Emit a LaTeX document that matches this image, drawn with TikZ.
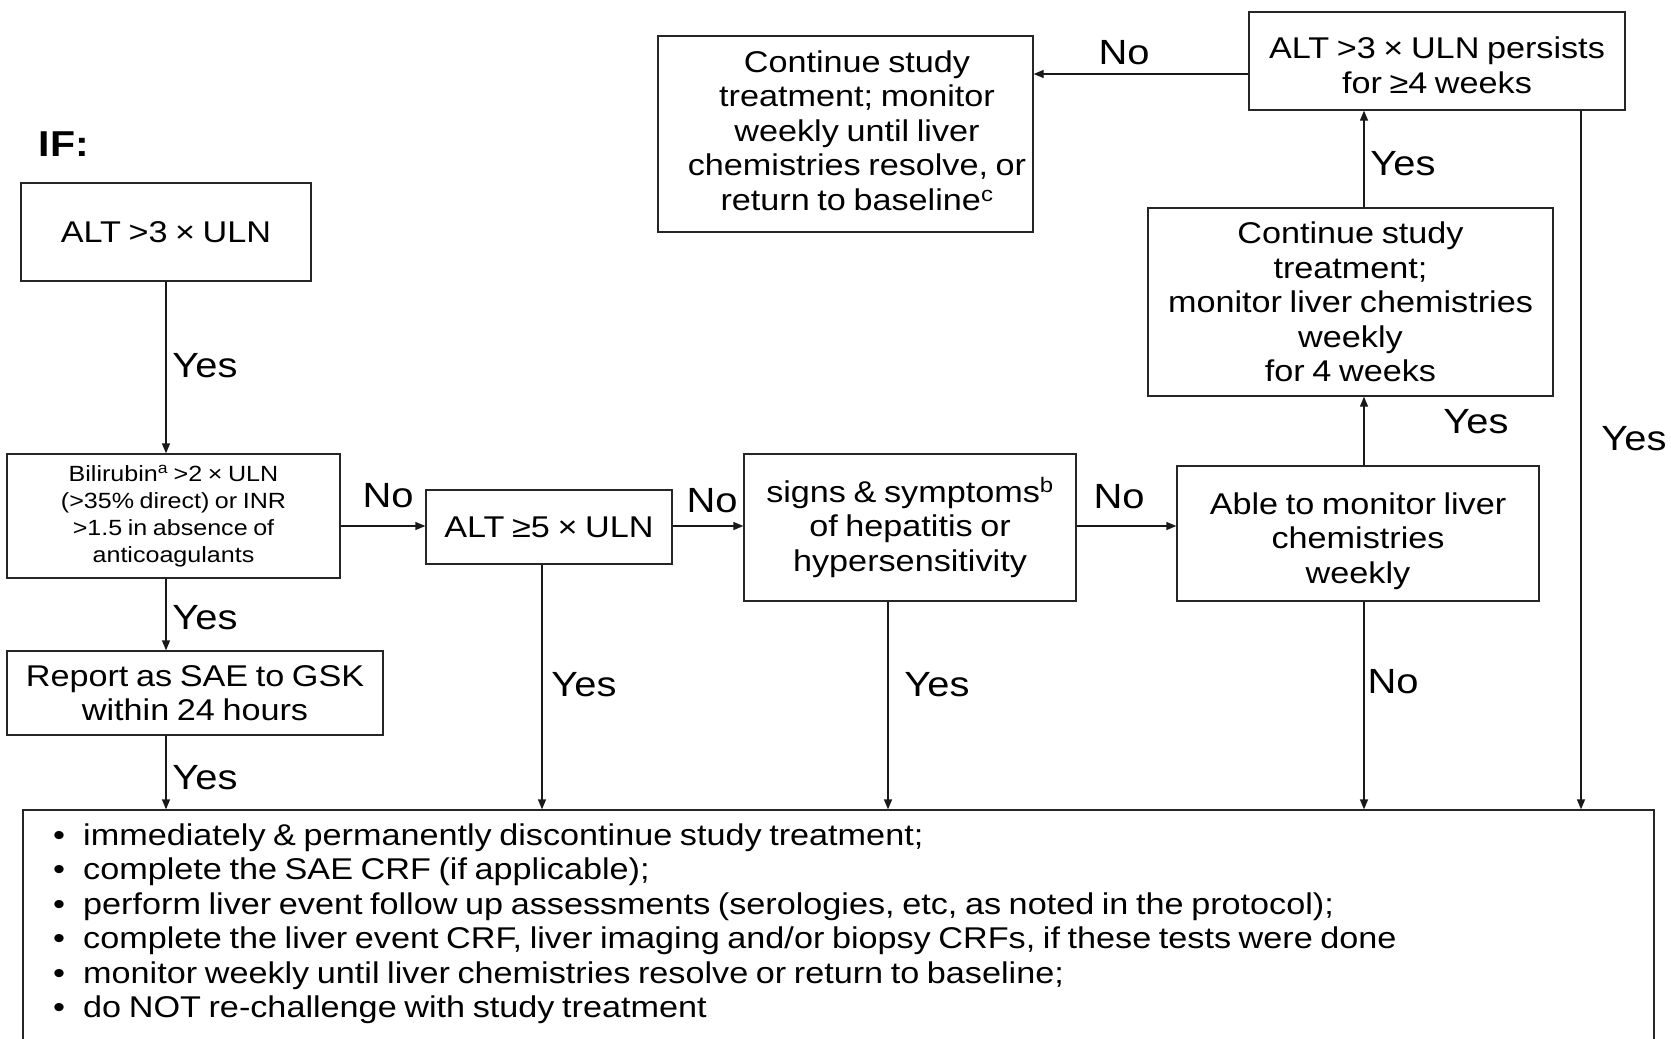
\documentclass[tikz,border=0pt]{standalone}
\usepackage{fontspec}
\setmainfont{Liberation Sans}[FakeStretch=1.14,WordSpace=0.8]
\usetikzlibrary{arrows.meta}
\newcommand{\boxfont}{\fontsize{30}{34.5}\selectfont}
\newcommand{\smallboxfont}{\fontsize{22}{27}\selectfont}
\newcommand{\lblfont}{\fontsize{35}{40}\selectfont}
\begin{document}
\begin{tikzpicture}[x=1pt,y=-1pt,
  box/.style={draw=black!85, line width=1.3pt, inner sep=0pt, align=center, font=\boxfont},
  txt/.style={inner sep=0pt, align=center, font=\boxfont},
  arr/.style={draw=black!90, line width=1.3pt, -{Triangle[length=10pt,width=8pt]}},
  lbl/.style={font=\lblfont, inner sep=0pt},
  bul/.style={font=\boxfont, anchor=base west, inner sep=0pt}]
\useasboundingbox (0,0) rectangle (1671,1039);
\fill[white] (0,0) rectangle (1671,1039);

\node[font=\fontsize{36}{40}\selectfont\bfseries, inner sep=0pt] (if) at (64,144) {IF:};

\node[box, minimum width=290pt, minimum height=98pt] (alt3) at (166,232) {ALT >3 × ULN};
\node[box, font=\smallboxfont, minimum width=333pt, minimum height=124pt] (bil) at (173.5,516)
  {Bilirubin\textsuperscript{a} >2 × ULN\\(>35\% direct) or INR\\>1.5 in absence of\\anticoagulants};
\node[box, minimum width=376pt, minimum height=84pt] (rep) at (195,693) {Report as SAE to GSK\\within 24 hours};
\node[box, minimum width=246pt, minimum height=74pt] (alt5) at (549,527) {ALT ≥5 × ULN};
\node[box, minimum width=332pt, minimum height=147pt] (sign) at (910,527.5)
  {signs \& symptoms\textsuperscript{b}\\of hepatitis or\\hypersensitivity};
\node[box, minimum width=362pt, minimum height=135pt] (able) at (1358,533.5) {};
\node[txt] (ablet) at (1358,541) {Able to monitor liver\\chemistries\\weekly};
\node[box, minimum width=405pt, minimum height=188pt] (cont2) at (1350.5,302)
  {Continue study\\treatment;\\monitor liver chemistries\\weekly\\for 4 weeks};
\node[box, minimum width=376pt, minimum height=98pt] (altp) at (1437,61) {};
\node[txt] (altpt) at (1437,65.5) {ALT >3 × ULN persists\\for ≥4 weeks};
\node[box, minimum width=375pt, minimum height=196pt] (cont1) at (845.5,134) {};
\node[txt] (cont1t) at (857,130.5)
  {Continue study\\treatment; monitor\\weekly until liver\\chemistries resolve, or\\return to baseline\textsuperscript{c}};
\node[box, minimum width=1631pt, minimum height=240pt] (bot) at (838.5,930) {};

\foreach \t [count=\k from 0] in {
  immediately \& permanently discontinue study treatment;,
  complete the SAE CRF (if applicable);,
  perform liver event follow up assessments (serologies{,} etc{,} as noted in the protocol);,
  complete the liver event CRF{,} liver imaging and/or biopsy CRFs{,} if these tests were done,
  monitor weekly until liver chemistries resolve or return to baseline;,
  do NOT re-challenge with study treatment}
  \node[bul] (line\k) at (53,{845+34.5*\k}) {\makebox[30pt][l]{•}\t};

\coordinate (hy) at (0,526);
\coordinate (vx) at (1364,0);
\coordinate (ny) at (0,74);
\coordinate (rx) at (1581,0);

\draw[arr] (alt3.south) -- (alt3.south |- bil.north);
\draw[arr] (alt3.south |- bil.south) -- (alt3.south |- rep.north);
\draw[arr] (alt3.south |- rep.south) -- (alt3.south |- bot.north);
\draw[arr] (bil.east |- hy) -- (alt5.west |- hy);
\draw[arr] (alt5.east |- hy) -- (sign.west |- hy);
\draw[arr] (sign.east |- hy) -- (able.west |- hy);
\draw[arr] ([xshift=-7pt]alt5.south) -- ([xshift=-7pt]alt5.south |- bot.north);
\draw[arr] ([xshift=-22pt]sign.south) -- ([xshift=-22pt]sign.south |- bot.north);
\draw[arr] (vx |- able.south) -- (vx |- bot.north);
\draw[arr] (vx |- able.north) -- (vx |- cont2.south);
\draw[arr] (vx |- cont2.north) -- (vx |- altp.south);
\draw[arr] (altp.west |- ny) -- (cont1.east |- ny);
\draw[arr] (rx |- altp.south) -- (rx |- bot.north);

\node[lbl] (y1) at (205,366) {Yes};
\node[lbl] (y2) at (205,618) {Yes};
\node[lbl] (y3) at (205,778) {Yes};
\node[lbl] (n1) at (388,496) {No};
\node[lbl] (n2) at (712,501) {No};
\node[lbl] (n3) at (1119,497) {No};
\node[lbl] (y4) at (1476,422) {Yes};
\node[lbl] (y5) at (1403,164) {Yes};
\node[lbl] (n4) at (1124,53) {No};
\node[lbl] (y6) at (1634,439) {Yes};
\node[lbl] (n5) at (1393,682) {No};
\node[lbl] (y7) at (937,685) {Yes};
\node[lbl] (y8) at (584,685) {Yes};
\end{tikzpicture}
\end{document}
